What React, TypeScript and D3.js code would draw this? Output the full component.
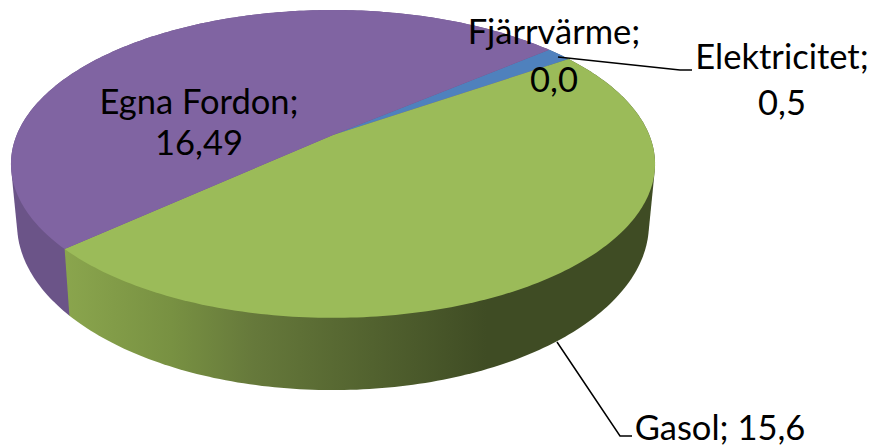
import React from "react";
import * as d3 from "d3";

const categories = ["Fjärrvärme", "Elektricitet", "Gasol", "Egna Fordon"];
const values = [0.0, 0.5, 15.6, 16.49];
const valueLabels = ["0,0", "0,5", "15,6", "16,49"];
const topColors = ["#4F81BD", "#4F81BD", "#9BBB59", "#8064A2"];
const wallColors = ["#3B5A80", "#3B5A80", "url(#gasolWall)", "#6B5488"];

const width = 872;
const height = 447;
const fontFamily = "Lato, 'Noto Sans', sans-serif";
const fontSize = 34.5;

// tilted disc: circle of radius 1 seen in perspective (v = far, u = right)
type Disc = { cx: number; c: number; b: number; a: number; k: number };
const topDisc: Disc = { cx: 333, c: 316.3, b: 135, a: 123.1, k: 0.188 };
const bottomDisc: Disc = { cx: 333, c: 310.2, b: 192.5, a: 123.5, k: 0.19 };

const project = (d: Disc, angle: number): [number, number] => {
  const u = Math.sin(angle);
  const v = Math.cos(angle);
  const w = 1 + d.k * v;
  return [d.cx + (d.c * u) / w, (d.b - d.a * v) / w];
};

const arcPoints = (d: Disc, start: number, end: number) => {
  const n = Math.max(2, Math.ceil(Math.abs(end - start) * 60));
  return d3.range(n + 1).map((i) => project(d, start + ((end - start) * i) / n));
};

const pie = d3
  .pie<number>()
  .sort(null)
  .startAngle((50 * Math.PI) / 180)
  .endAngle((410 * Math.PI) / 180);

const line = d3.line();

const wallShade = d3
  .scaleLinear<string>()
  .domain([0, 0.18, 0.32, 0.4, 0.72, 1])
  .range(["#8AA54D", "#789142", "#66793B", "#5E7036", "#3F4C24", "#3F4C24"]);

const labels = [
  { lines: [categories[0] + ";", valueLabels[0]], x: 554, y: 44, dy: 48 },
  { lines: [categories[1] + ";", valueLabels[1]], x: 782, y: 69, dy: 46 },
  { lines: [categories[2] + "; " + valueLabels[2]], x: 720, y: 440, dy: 0 },
  { lines: [categories[3] + ";", valueLabels[3]], x: 199, y: 114, dy: 41 },
];

const leaders: [number, number][][] = [
  [[558, 57], [680, 70], [692, 70]],
  [[557, 342], [620, 436], [632, 436]],
];

export default function App() {
  const arcs = pie(values);

  return (
    <svg
      width={width}
      height={height}
      style={{ position: "absolute", left: 0, top: 0, background: "#fff" }}
    >
      <defs>
        <linearGradient id="gasolWall" gradientUnits="userSpaceOnUse" x1={66} x2={650} y1={0} y2={0}>
          {wallShade.domain().map((t) => (
            <stop key={t} offset={t} stopColor={wallShade(t)} />
          ))}
        </linearGradient>
      </defs>

      {/* walls back to front, hull so the sides run straight from top rim to bottom rim */}
      {arcs
        .map((a, i) => ({ a, i }))
        .reverse()
        .map(({ a, i }) =>
          a.value > 0 ? (
            <path
              key={"wall" + i}
              fill={wallColors[i]}
              d={
                line(
                  d3.polygonHull([
                    ...arcPoints(topDisc, a.startAngle, a.endAngle),
                    ...arcPoints(bottomDisc, a.endAngle, a.startAngle),
                  ]) as [number, number][]
                ) + "Z"
              }
            />
          ) : null
        )}

      {arcs.map((a, i) =>
        a.value > 0 ? (
          <path
            key={"top" + i}
            fill={topColors[i]}
            d={
              line([
                [topDisc.cx, topDisc.b],
                ...arcPoints(topDisc, a.startAngle, a.endAngle),
              ]) + "Z"
            }
          />
        ) : null
      )}

      {leaders.map((pts, i) => (
        <path key={i} d={line(pts) as string} fill="none" stroke="#000" strokeWidth={1.5} />
      ))}

      {labels.map((l, i) => (
        <text key={i} textAnchor="middle" fontFamily={fontFamily} fontSize={fontSize} fill="#000">
          {l.lines.map((s, j) => (
            <tspan key={j} x={l.x} y={l.y + j * l.dy}>
              {s}
            </tspan>
          ))}
        </text>
      ))}
    </svg>
  );
}
